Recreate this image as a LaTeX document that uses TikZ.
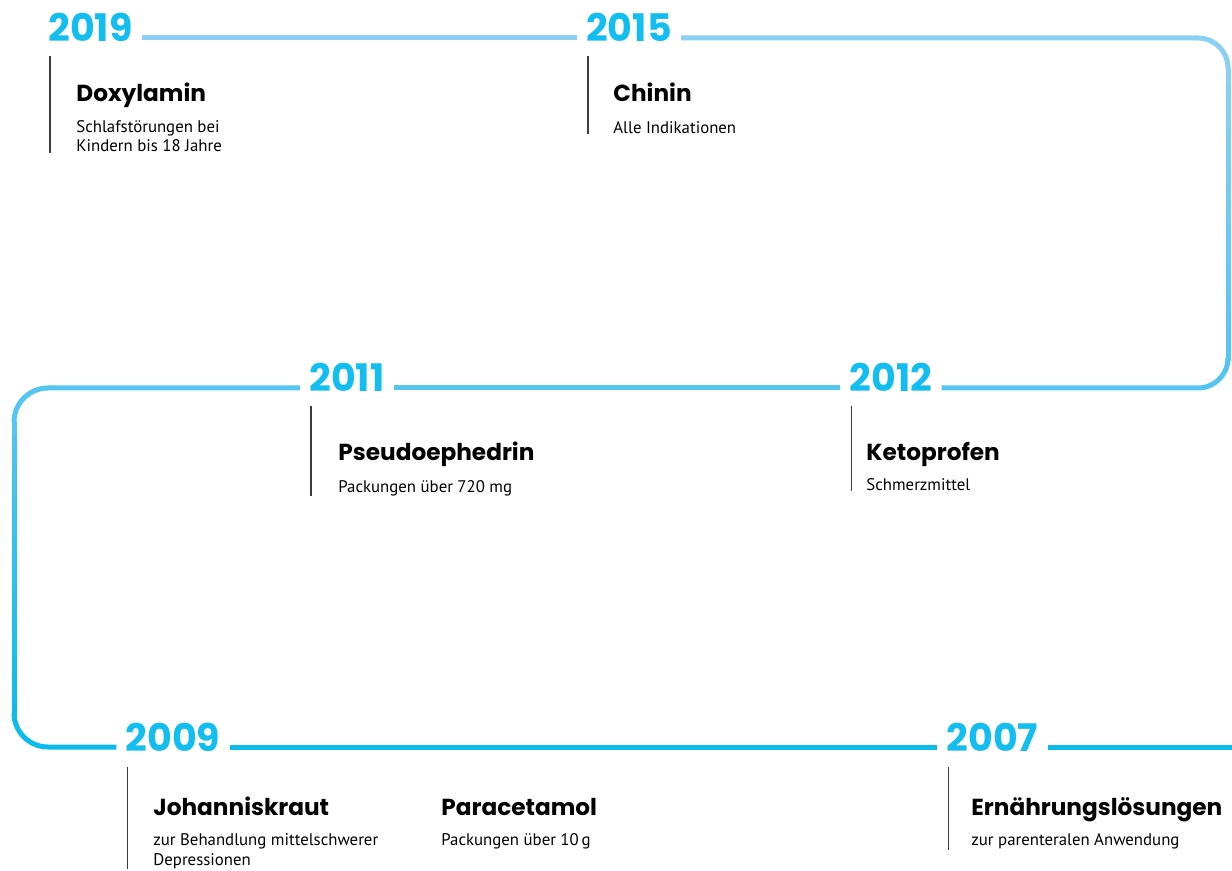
\documentclass[tikz,border=0pt]{standalone}
\usepackage{fontspec}
\setmainfont{PT Sans}
\newfontfamily\yearfont{Poppins}
\usepackage{tikz}
\usetikzlibrary{positioning,calc}
\usepackage{xcolor}
\definecolor{YearBlue}{RGB}{18,189,239}
\definecolor{LineTop}{RGB}{138,208,242}
\definecolor{LineMid}{RGB}{84,197,241}
\definecolor{LineLow}{RGB}{12,187,238}
\definecolor{DarkText}{RGB}{0,0,0}
\definecolor{TickGray}{RGB}{60,60,60}

\begin{document}
\begin{tikzpicture}[
    x=0.5pt, y=-0.5pt,
    year/.style={font=\yearfont\bfseries\fontsize{19}{19}\selectfont, text=YearBlue,
        inner xsep=4.5pt, inner ysep=0pt, anchor=base},
    drug/.style={font=\yearfont\bfseries\fontsize{11.6}{14}\selectfont, text=DarkText,
        inner sep=0pt, anchor=base west},
    note/.style={font=\fontsize{8.4}{9.8}\selectfont, text=DarkText,
        inner sep=0pt, align=left},
    tick/.style={draw=TickGray, line width=0.75pt},
    tline/.style={line width=2.5pt, rounded corners=15pt},
]
\useasboundingbox (0,0) rectangle (1232,871);

% rows of the timeline
\coordinate (r1) at (0,38);
\coordinate (r2) at (0,388);
\coordinate (r3) at (0,747);

\node[year] (y19) at (90.5,42) {2019};
\node[year] (y15) at (629,42) {2015};
\node[year] (y11) at (347,392) {2011};
\node[year] (y12) at (891,392) {2012};
\node[year] (y09) at (173,751) {2009};
\node[year] (y07) at (992.5,751) {2007};

% turns
\coordinate (c1) at (1228,38);
\coordinate (c2) at (1228,388);
\coordinate (c3) at (14,388);
\coordinate (c4) at (14,747);
\coordinate (m1) at (1228,68);
\coordinate (m2) at (1228,358);
\coordinate (m3) at (14,422);
\coordinate (m4) at (14,713);
\coordinate (end) at (1232,747);

\draw[tline, LineTop] (y19.east |- r1) -- (y15.west |- r1);
\draw[tline, LineTop] (y15.east |- r1) -- (c1) -- (m1);
\draw[tline, LineMid] (m2) -- (c2) -- (y12.east |- r2);
\draw[tline, LineMid] (y12.west |- r2) -- (y11.east |- r2);
\draw[tline, LineMid, rounded corners=17pt] (y11.west |- r2) -- (c3) -- (m3);
\draw[tline, LineLow, rounded corners=17pt] (m4) -- (c4) -- (y09.west |- r3);
\draw[tline, LineLow] (y09.east |- r3) -- (y07.west |- r3);
\draw[tline, LineLow] (y07.east |- r3) -- (end);

% fade on the two upright runs
\foreach \k in {0,...,19}{
    \pgfmathsetmacro\pc{97.5-\k*5}
    \draw[line width=2.5pt, LineTop!\pc!LineMid] ($(m1)!\k/20!(m2)$) -- ($(m1)!\k/20+0.06!(m2)$);
    \draw[line width=2.5pt, LineMid!\pc!LineLow] ($(m3)!\k/20!(m4)$) -- ($(m3)!\k/20+0.06!(m4)$);
}

% entries
\node[drug] (t19) at (76,102) {Doxylamin};
\node[note, below=9pt of t19.base west, anchor=north west] (n19) {Schlafstörungen bei\\Kindern bis 18 Jahre};

\node[drug] (t15) at (613,102) {Chinin};
\node[note, below=9.6pt of t15.base west, anchor=north west] (n15) {Alle Indikationen};

\node[drug] (t11) at (338,461) {Pseudoephedrin};
\node[note, below=9.4pt of t11.base west, anchor=north west] (n11) {Packungen über 720 mg};

\node[drug] (t12) at (866,461) {Ketoprofen};
\node[note, below=8.4pt of t12.base west, anchor=north west] (n12) {Schmerzmittel};

\node[drug] (t09) at (153,815) {Johanniskraut};
\node[note, below=9.2pt of t09.base west, anchor=north west] (n09) {zur Behandlung mittelschwerer\\Depressionen};

\node[drug] (t09b) at (441,815) {Paracetamol};
\node[note, below=9.2pt of t09b.base west, anchor=north west] (n09b) {Packungen über 10\,g};

\node[drug] (t07) at (971,815) {Ernährungslösungen};
\node[note, below=9.2pt of t07.base west, anchor=north west] (n07) {zur parenteralen Anwendung};

% ticks from the years down to the notes
\draw[tick] ($(y19.west |- r1)+(11,18)$) -- ($(y19.west |- n19.south)+(11,0)$);
\draw[tick] ($(y15.west |- r1)+(11,18)$) -- ($(y15.west |- n15.south)+(11,0)$);
\draw[tick] ($(y11.west |- r2)+(11,18)$) -- ($(y11.west |- n11.south)+(11,0)$);
\draw[tick] ($(y12.west |- r2)+(11,18)$) -- ($(y12.west |- n12.south)+(11,0)$);
\draw[tick] ($(y09.west |- r3)+(11,20)$) -- ($(y09.west |- n09.south)+(11,0)$);
\draw[tick] ($(y07.west |- r3)+(11,20)$) -- ($(y07.west |- n07.south)+(11,0)$);
\end{tikzpicture}
\end{document}
